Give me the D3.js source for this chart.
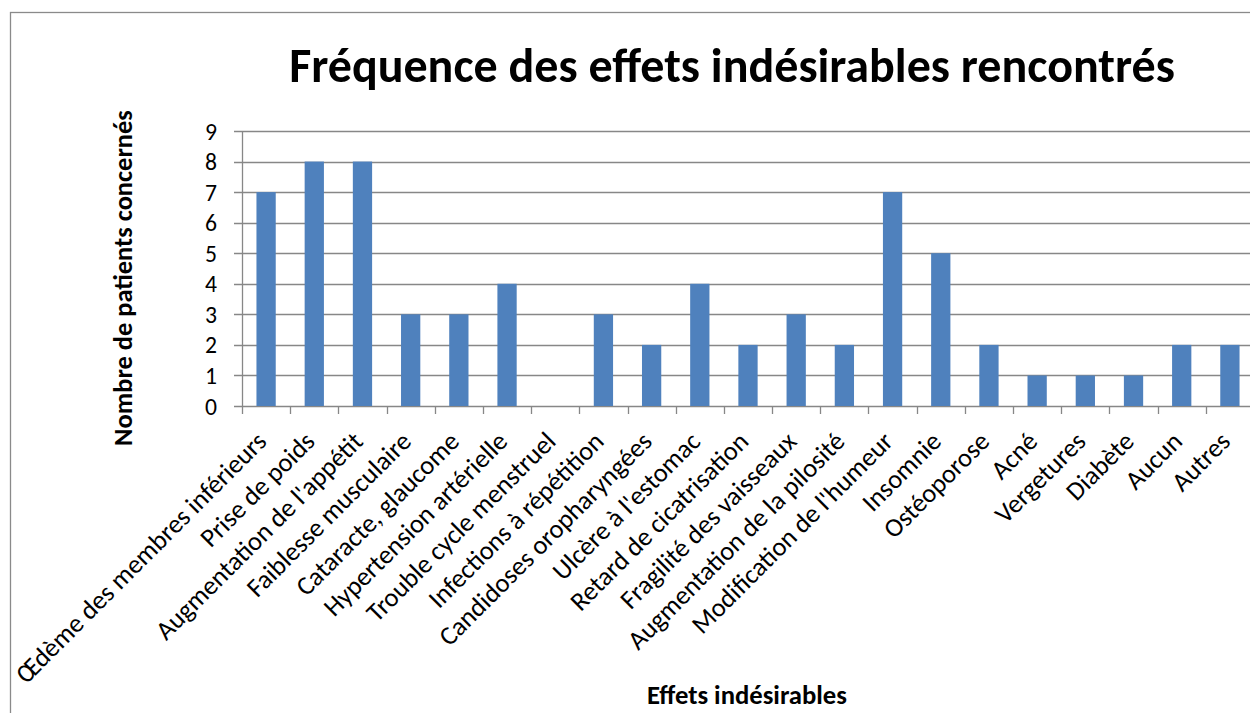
<!DOCTYPE html>
<html>
<head>
<meta charset="utf-8">
<script src="https://cdn.jsdelivr.net/npm/d3@7"></script>
<style>
  html, body { margin: 0; padding: 0; background: #fff; }
  svg { display: block; }
  text { font-family: Carlito, Calibri, Lato, "Open Sans", sans-serif; fill: #000; }
</style>
</head>
<body>
<svg id="chart" width="1250" height="713"></svg>
<script>
// Side effects reported and number of patients concerned
const categories = [
  "Œdème des membres inférieurs",
  "Prise de poids",
  "Augmentation de l'appétit",
  "Faiblesse musculaire",
  "Cataracte, glaucome",
  "Hypertension artérielle",
  "Trouble cycle menstruel",
  "Infections à répétition",
  "Candidoses oropharyngées",
  "Ulcère à l'estomac",
  "Retard de cicatrisation",
  "Fragilité des vaisseaux",
  "Augmentation de la pilosité",
  "Modification de l'humeur",
  "Insomnie",
  "Ostéoporose",
  "Acné",
  "Vergetures",
  "Diabète",
  "Aucun",
  "Autres"
];
const patients = [7, 8, 8, 3, 3, 4, 0, 3, 2, 4, 2, 3, 2, 7, 5, 2, 1, 1, 1, 2, 2];
const yTicks = [0, 1, 2, 3, 4, 5, 6, 7, 8, 9];

const titleText = "Fréquence des effets indésirables rencontrés";
const yTitle = "Nombre de patients concernés";
const xTitle = "Effets indésirables";

const svg = d3.select("#chart");

// Plot area
const plot = { left: 242, right: 1254, top: 131, bottom: 406 };

const x = d3.scaleBand()
  .domain(categories)
  .range([plot.left, plot.right])
  .paddingInner(0.6)
  .paddingOuter(0.3);

const xTick = d3.scaleBand()
  .domain(categories)
  .range([plot.left, plot.right]);

const y = d3.scaleLinear()
  .domain([0, 9])
  .range([plot.bottom, plot.top]);

// Chart frame
svg.append("rect")
  .attr("x", 10.5).attr("y", 12.5)
  .attr("width", 1300).attr("height", 800)
  .attr("fill", "none")
  .attr("stroke", "#8a8a8a")
  .attr("stroke-width", 1.3);

// Horizontal gridlines
svg.append("g")
  .selectAll("line")
  .data(yTicks)
  .join("line")
  .attr("x1", plot.left - 8)
  .attr("x2", 1250)
  .attr("y1", d => Math.round(y(d)) + 0.5)
  .attr("y2", d => Math.round(y(d)) + 0.5)
  .attr("stroke", "#878787")
  .attr("stroke-width", 1.3);

// Y axis line
svg.append("line")
  .attr("x1", plot.left + 0.5).attr("x2", plot.left + 0.5)
  .attr("y1", plot.top).attr("y2", plot.bottom)
  .attr("stroke", "#878787")
  .attr("stroke-width", 1.3);

// Y tick labels, sized so a digit is about 12px wide
const yLabels = svg.append("g")
  .selectAll("text")
  .data(yTicks)
  .join("text")
  .attr("x", 217)
  .attr("y", d => y(d))
  .attr("text-anchor", "end")
  .style("font-size", "24px")
  .text(d => d);
const digitW = yLabels.nodes()[0].getComputedTextLength() || 12;
const ySize = 24 * 12 / digitW;
yLabels.style("font-size", ySize + "px").attr("dy", "0.36em");

// X tick marks (between categories)
const tickPositions = categories.map(c => xTick(c)).concat([plot.right]);
svg.append("g")
  .selectAll("line")
  .data(tickPositions)
  .join("line")
  .attr("x1", d => Math.round(d) + 0.5)
  .attr("x2", d => Math.round(d) + 0.5)
  .attr("y1", plot.bottom)
  .attr("y2", plot.bottom + 8)
  .attr("stroke", "#878787")
  .attr("stroke-width", 1.3);

// Bars
svg.append("g")
  .selectAll("rect")
  .data(categories.map((c, i) => ({ c, v: patients[i] })))
  .join("rect")
  .attr("x", d => x(d.c))
  .attr("width", x.bandwidth())
  .attr("y", d => y(d.v))
  .attr("height", d => y(0) - y(d.v))
  .attr("fill", "#4f81bd");

// Rotated category labels
const labelSize = 20;
const labels = svg.append("g")
  .selectAll("text")
  .data(categories)
  .join("text")
  .style("font-size", labelSize + "px")
  .attr("text-anchor", "end")
  .attr("transform", c => `translate(${xTick(c) + xTick.bandwidth() / 2 + 2},${plot.bottom + 37}) rotate(-45)`)
  .text(c => c);

// Scale labels so the longest one spans its intended length
const longest = labels.nodes()[0].getComputedTextLength();
const fitLabel = labelSize * 342 / longest;
labels.style("font-size", fitLabel + "px");

// Chart title
const title = svg.append("text")
  .attr("x", 732)
  .attr("y", 82)
  .attr("text-anchor", "middle")
  .attr("font-weight", "bold")
  .style("font-size", "40px")
  .text(titleText);
const tw = title.node().getComputedTextLength();
title.style("font-size", (40 * 886 / tw) + "px");

// Y axis title
const yt = svg.append("text")
  .attr("transform", "translate(132,278) rotate(-90)")
  .attr("text-anchor", "middle")
  .attr("font-weight", "bold")
  .style("font-size", "20px")
  .text(yTitle);
const yw = yt.node().getComputedTextLength();
yt.style("font-size", (20 * 336 / yw) + "px");

// X axis title
const xt = svg.append("text")
  .attr("x", 747)
  .attr("y", 704)
  .attr("text-anchor", "middle")
  .attr("font-weight", "bold")
  .style("font-size", "20px")
  .text(xTitle);
const xw = xt.node().getComputedTextLength();
xt.style("font-size", (20 * 200 / xw) + "px");
</script>
</body>
</html>
